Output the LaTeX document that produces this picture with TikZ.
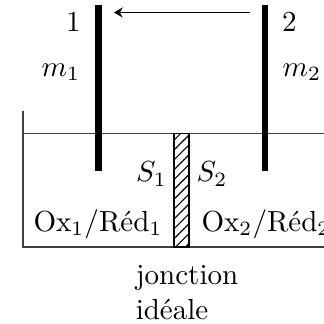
\documentclass[tikz,border=0pt]{standalone}
\usetikzlibrary{arrows.meta,patterns.meta}
\tikzset{
  electrode/.style={line width=2.4pt},
  wall/.style={line width=0.4pt,black!75},
}
\begin{document}
\begin{tikzpicture}[>={Stealth[length=3pt,width=3.5pt,inset=1pt]},x=0.0121cm,y=0.0121cm]
\useasboundingbox (0,0) rectangle (324,324);
% cell
\coordinate (wtop) at (23,213);
\coordinate (wbot) at (23,77);
\coordinate (wend) at (324,77);
\coordinate (lleft) at (23,190.5);
\coordinate (lright) at (324,190.5);
\draw[wall] (wtop) -- (wbot) -- (wend);
\draw[wall] (lleft) -- (lright);
% junction
\node[draw,line width=0.5pt,pattern={Lines[angle=45,distance=2.4pt,line width=0.4pt]},minimum width=15*0.0121cm,minimum height=113.5*0.0121cm,inner sep=0pt,outer sep=0pt] (junction) at (181.5,133.75) {};
% electrodes
\coordinate (e1top) at (98.5,319);
\coordinate (e1bot) at (98.5,153);
\coordinate (e2top) at (265,319);
\coordinate (e2bot) at (265,153);
\draw[electrode] (e1top) -- (e1bot);
\draw[electrode] (e2top) -- (e2bot);
\coordinate (astart) at (250,311.5);
\coordinate (aend) at (114,311.5);
\draw[->] (astart) -- (aend);
% labels
\node (n1) at (73.5,302) {1};
\node (n2) at (289.5,302) {2};
\node (m1) at (61,252) {$m_1$};
\node (m2) at (302,252) {$m_2$};
\node (S1) at (151.5,150) {$S_1$};
\node (S2) at (212,150) {$S_2$};
\node (couple1) at (98,100) {Ox$_1$/Réd$_1$};
\node (couple2) at (266,100) {Ox$_2$/Réd$_2$};
\node[align=left] (jonction) at (187,31) {jonction\\idéale};
\end{tikzpicture}
\end{document}
